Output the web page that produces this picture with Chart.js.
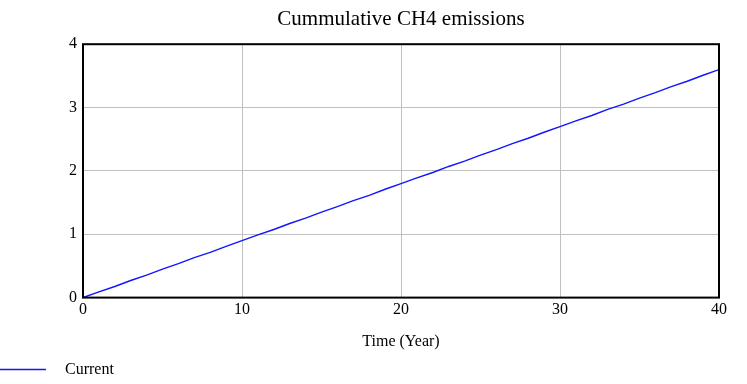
<!DOCTYPE html>
<html>
<head>
<meta charset="utf-8">
<script src="https://cdn.jsdelivr.net/npm/chart.js@4"></script>
<style>
  html, body { margin: 0; padding: 0; background: #fff; }
  #wrap { width: 747px; height: 384px; }
</style>
</head>
<body>
<div id="wrap"><canvas id="ch4Chart" width="747" height="384"></canvas></div>
<script>
// data
const years = [0, 1, 2, 3, 4, 5, 6, 7, 8, 9, 10, 11, 12, 13, 14, 15, 16, 17, 18, 19, 20,
               21, 22, 23, 24, 25, 26, 27, 28, 29, 30, 31, 32, 33, 34, 35, 36, 37, 38, 39, 40];
const currentValues = [0, 0.09, 0.175, 0.27, 0.355, 0.45, 0.535, 0.63, 0.715, 0.81, 0.9,
                       0.99, 1.075, 1.17, 1.255, 1.35, 1.435, 1.53, 1.615, 1.71, 1.8,
                       1.89, 1.975, 2.07, 2.155, 2.25, 2.335, 2.43, 2.515, 2.61, 2.7,
                       2.79, 2.875, 2.97, 3.055, 3.15, 3.235, 3.33, 3.415, 3.51, 3.6];
const xTicks = [0, 10, 20, 30, 40];
const yTicks = [0, 1, 2, 3, 4];
const seriesLabel = 'Current';
const chartTitle = 'Cummulative CH4 emissions';
const xTitle = 'Time (Year)';

const serif = 'Liberation Serif';

// frame + title centering + legend at the bottom-left
const framePlugin = {
    id: 'frame',
    afterLayout(chart) {
        const a = chart.chartArea;
        if (chart.titleBlock) {
            chart.titleBlock.left = a.left;
            chart.titleBlock.right = a.right;
        }
    },
    afterDatasetsDraw(chart) {
        const ctx = chart.ctx;
        const a = chart.chartArea;
        ctx.save();
        ctx.strokeStyle = '#000';
        ctx.lineWidth = 2;
        ctx.strokeRect(a.left, a.top, a.right - a.left, a.bottom - a.top);
        ctx.restore();
    },
    afterDraw(chart) {
        const ctx = chart.ctx;
        const ds = chart.data.datasets[0];
        ctx.save();
        ctx.strokeStyle = ds.borderColor;
        ctx.lineWidth = 1.5;
        ctx.beginPath();
        ctx.moveTo(0, 369.5);
        ctx.lineTo(46, 369.5);
        ctx.stroke();
        ctx.fillStyle = '#000';
        ctx.font = '16px "' + serif + '"';
        ctx.textBaseline = 'middle';
        ctx.fillText(ds.label, 65, 370);
        ctx.restore();
    }
};

const ctx = document.getElementById('ch4Chart').getContext('2d');
const chart = new Chart(ctx, {
    type: 'line',
    data: {
        datasets: [{
            label: seriesLabel,
            data: years.map((y, i) => ({ x: y, y: currentValues[i] })),
            borderColor: 'rgb(20, 20, 255)',
            borderWidth: 1.4,
            pointRadius: 0,
            tension: 0,
            fill: false
        }]
    },
    options: {
        responsive: false,
        animation: false,
        layout: {
            padding: { left: 63, right: 28, top: 0, bottom: 33 }
        },
        plugins: {
            legend: { display: false },
            tooltip: { enabled: false },
            title: {
                display: true,
                text: chartTitle,
                color: '#000',
                font: { family: serif, size: 21, weight: 'normal' },
                padding: { top: 7, bottom: 12 }
            }
        },
        scales: {
            x: {
                type: 'linear',
                min: 0,
                max: 40,
                afterBuildTicks(scale) { scale.ticks = xTicks.map(v => ({ value: v })); },
                grid: { color: '#c0c0c0', lineWidth: 1, drawTicks: false },
                border: { display: false },
                ticks: {
                    color: '#000',
                    padding: 3,
                    maxRotation: 0,
                    font: { family: serif, size: 16 }
                },
                title: {
                    display: true,
                    text: xTitle,
                    color: '#000',
                    font: { family: serif, size: 16 },
                    padding: { top: 9, bottom: 0 }
                }
            },
            y: {
                min: 0,
                max: 4,
                afterBuildTicks(scale) { scale.ticks = yTicks.map(v => ({ value: v })); },
                grid: { color: '#c0c0c0', lineWidth: 1, drawTicks: false },
                border: { display: false },
                ticks: {
                    color: '#000',
                    padding: 6,
                    font: { family: serif, size: 16 }
                }
            }
        }
    },
    plugins: [framePlugin]
});
</script>
</body>
</html>
